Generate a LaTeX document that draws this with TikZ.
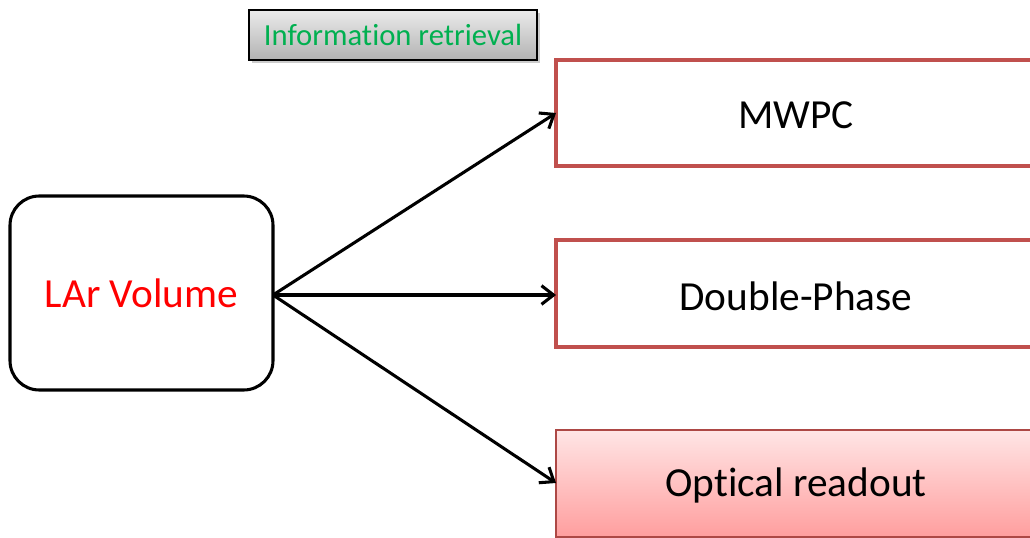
\documentclass[tikz,border=0pt]{standalone}
\usepackage{fontspec}
\setmainfont[Ligatures=NoCommon]{Carlito}
\usetikzlibrary{arrows.meta,shadows}
\definecolor{boxred}{RGB}{192,80,77}
\definecolor{txtgreen}{RGB}{0,176,80}
\begin{document}
\begin{tikzpicture}[x=0.75pt,y=-0.75pt,
  redbox/.style={draw=boxred,line width=2.3pt,fill=white},
  conn/.style={line width=2.3pt,-{Straight Barb[length=9pt,width=14pt,line width=2.3pt]}},
  lbl/.style={font=\fontsize{31}{33}\selectfont}]
\useasboundingbox (0,0) rectangle (1030,538);
% Information retrieval
\node[draw=black,line width=1pt,top color=white!92!black,bottom color=black!30,
  drop shadow={shadow xshift=2pt,shadow yshift=-2pt,opacity=0.4},
  minimum width=288*0.75pt,minimum height=50*0.75pt,inner sep=0pt,
  font=\fontsize{23}{25}\selectfont,text=txtgreen] (info) at (393,35) {Information retrieval};
% LAr
\node[draw=black,line width=2.3pt,rounded corners=22pt,minimum width=263*0.75pt,
  minimum height=194*0.75pt,inner sep=0pt,text=red,lbl] (lar) at (141.5,293) {\raisebox{-2pt}{LAr Volume}};
% targets
\path[redbox] (556,60) rectangle (1040,166);
\node[lbl] (mwpc) at (796,115) {MWPC};
\coordinate (mwpcin) at (556,113);
\path[redbox] (556,240) rectangle (1040,347);
\node[lbl] (dp) at (796,296) {Double-Phase};
\coordinate (dpin) at (556,295);
\path[draw=boxred!90!black,line width=1pt,top color=red!10,bottom color=red!38] (556,430) rectangle (1040,537);
\node[lbl] (opt) at (796,485) {Optical readout};
\coordinate (optin) at (556,483);
\coordinate (src) at (273,295);
\draw[conn] (src) -- (mwpcin);
\draw[conn] (src) -- (dpin);
\draw[conn] (src) -- (optin);
\end{tikzpicture}
\end{document}
